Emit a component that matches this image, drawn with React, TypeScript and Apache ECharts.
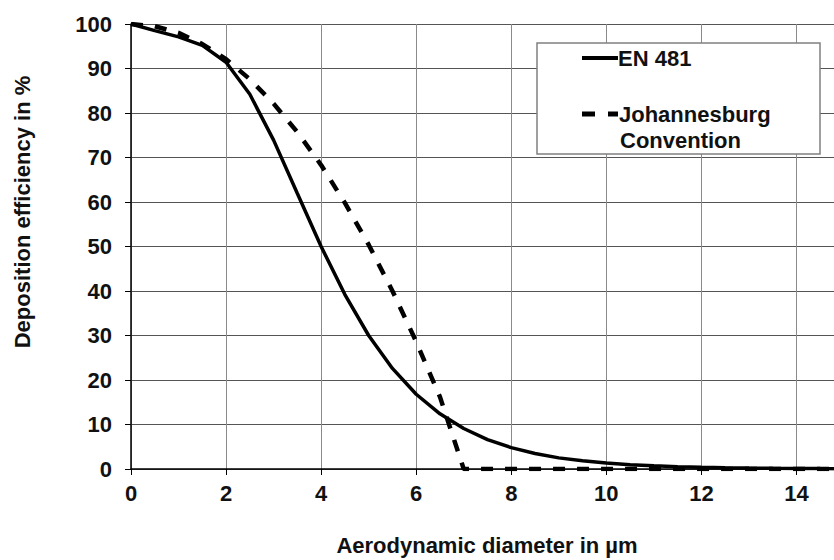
import React, { useEffect, useRef } from "react";
import * as echarts from "echarts";

// Aerodynamic diameter (µm)
const diameters = [
  0, 0.5, 1, 1.5, 2, 2.5, 3, 3.5, 4, 4.5, 5, 5.5, 6, 6.5, 7, 7.5, 8, 8.5, 9, 9.5,
  10, 10.5, 11, 11.5, 12, 12.5, 13, 13.5, 14, 14.5, 15,
];

// EN 481 deposition efficiency (%)
const en481 = [
  100, 98.5, 97.1, 95.2, 91.4, 84.2, 73.9, 61.9, 50.0, 39.2, 30.0, 22.6, 16.8,
  12.4, 9.1, 6.6, 4.8, 3.5, 2.5, 1.85, 1.35, 0.98, 0.72, 0.53, 0.39, 0.29, 0.21,
  0.16, 0.12, 0.09, 0.07,
];

// Johannesburg Convention deposition efficiency (%)
const johannesburg = [
  100, 99.5, 98.0, 95.5, 92.1, 87.6, 82.1, 75.7, 68.3, 59.8, 50.4, 40.0, 28.6,
  16.2, 0, 0, 0, 0, 0, 0, 0, 0, 0, 0, 0, 0, 0, 0, 0, 0, 0,
];

const seriesNames = ["EN 481", "Johannesburg\nConvention"];
const xTitle = "Aerodynamic diameter in µm";
const yTitle = "Deposition efficiency in %";

const FONT = "'Liberation Sans', Arial, Helvetica, sans-serif";
const TXT = "#111";

export default function App() {
  const ref = useRef<HTMLDivElement>(null);

  useEffect(() => {
    if (!ref.current) return;
    const chart = echarts.init(ref.current, undefined, { renderer: "svg" });

    const pairs = (ys: number[]) => diameters.map((x, i) => [x, ys[i]]);

    const textEl = (
      text: string,
      x: number,
      y: number,
      align: string,
      rotation = 0
    ) => ({
      type: "text",
      x,
      y,
      rotation,
      z: 100,
      style: {
        text,
        fill: TXT,
        fontSize: 22,
        fontWeight: "bold",
        fontFamily: FONT,
        align,
        verticalAlign: "middle",
      },
    });

    chart.setOption({
      animation: false,
      backgroundColor: "#fff",
      grid: {
        left: 131,
        right: -10,
        top: 24,
        bottom: 91,
        containLabel: false,
        outerBoundsMode: "none",
      },
      xAxis: {
        type: "value",
        min: 0,
        max: 15,
        interval: 2,
        axisLine: { show: true, onZero: false, lineStyle: { color: "#000", width: 1.5 } },
        axisTick: { show: true, length: 6, lineStyle: { color: "#000", width: 1 } },
        axisLabel: {
          margin: 13,
          fontSize: 22,
          fontWeight: "bold",
          fontFamily: FONT,
          color: TXT,
          showMaxLabel: false,
        },
        splitLine: { show: true, lineStyle: { color: "#8a8a8a", width: 1 } },
      },
      yAxis: {
        type: "value",
        min: 0,
        max: 100,
        interval: 10,
        axisLine: { show: true, lineStyle: { color: "#000", width: 1.5 } },
        axisTick: { show: true, length: 6, lineStyle: { color: "#000", width: 1 } },
        axisLabel: {
          margin: 19,
          fontSize: 22,
          fontWeight: "bold",
          fontFamily: FONT,
          color: TXT,
        },
        splitLine: { show: true, lineStyle: { color: "#555", width: 1 } },
      },
      series: [
        {
          name: seriesNames[0],
          type: "line",
          data: pairs(en481),
          symbol: "none",
          lineStyle: { color: "#000", width: 3.5 },
          z: 3,
        },
        {
          name: seriesNames[1],
          type: "line",
          data: pairs(johannesburg),
          symbol: "none",
          lineStyle: { color: "#000", width: 4.5, type: [12, 12], cap: "butt" },
          z: 4,
        },
      ],
      graphic: [
        {
          type: "rect",
          z: 99,
          shape: { x: 537, y: 43, width: 283, height: 111 },
          style: { fill: "#fff", stroke: "#808080", lineWidth: 1.5 },
        },
        {
          type: "line",
          z: 100,
          shape: { x1: 582, y1: 58, x2: 618, y2: 58 },
          style: { stroke: "#000", lineWidth: 4 },
        },
        textEl(seriesNames[0], 618, 58, "left"),
        {
          type: "line",
          z: 100,
          shape: { x1: 582, y1: 114, x2: 618, y2: 114 },
          style: { stroke: "#000", lineWidth: 5, lineDash: [13, 13] },
        },
        textEl(seriesNames[1].split("\n")[0], 619, 114, "left"),
        textEl(seriesNames[1].split("\n")[1], 620, 140, "left"),
        textEl(yTitle, 22, 212, "center", Math.PI / 2),
        textEl(xTitle, 487, 545, "center"),
      ],
    });

    return () => chart.dispose();
  }, []);

  return (
    <div
      ref={ref}
      style={{ position: "absolute", left: 0, top: 0, width: 834, height: 560 }}
    />
  );
}
